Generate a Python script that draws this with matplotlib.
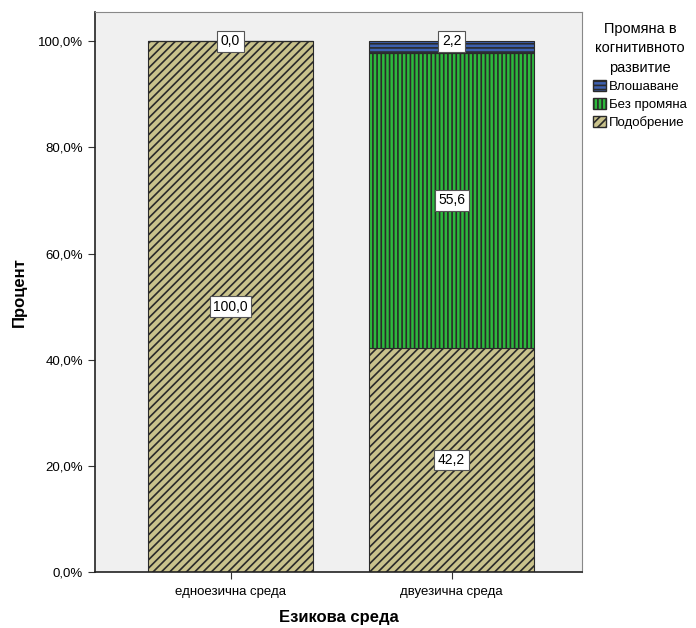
import matplotlib
matplotlib.use("Agg")
import matplotlib.pyplot as plt
from matplotlib.patches import Patch
from matplotlib.ticker import FuncFormatter

plt.rcParams['font.family'] = ['Liberation Sans', 'DejaVu Sans']
plt.rcParams['hatch.linewidth'] = 1.2

# данни
categories = ["едноезична среда", "двуезична среда"]
podobrenie = [100.0, 42.2]
bez_promyana = [0.0, 55.6]
vloshavane = [0.0, 2.2]

series_names = ["Влошаване", "Без промяна", "Подобрение"]
colors = {"Подобрение": "#c9c28c", "Без промяна": "#2db83d", "Влошаване": "#3d5fae"}
hatches = {"Подобрение": "////", "Без промяна": "||||", "Влошаване": "----"}
edge = "#2a2a2a"

fig = plt.figure(figsize=(6.96, 6.28), dpi=100)
ax = fig.add_axes([95 / 696, 56 / 628, 487 / 696, 560 / 628])
ax.set_facecolor("#f0f0f0")

x = list(range(len(categories)))
w = 0.747
bottoms = [0.0] * len(categories)
stack = [("Подобрение", podobrenie), ("Без промяна", bez_promyana), ("Влошаване", vloshavane)]
for name, vals in stack:
    ax.bar(x, vals, w, bottom=bottoms, color=colors[name], edgecolor=edge,
           hatch=hatches[name], linewidth=0.8, zorder=2)
    bottoms = [b + v for b, v in zip(bottoms, vals)]

box = dict(boxstyle="square,pad=0.25", fc="white", ec="#555555", lw=0.8)
# етикети на сегментите
for i in x:
    b = 0.0
    for name, vals in stack:
        v = vals[i]
        if v > 0:
            if v < 5:
                y = b + v
            else:
                y = b + v / 2
            ax.text(i, y, f"{v:.1f}".replace(".", ","), ha="center", va="center",
                    fontsize=10, bbox=box, zorder=4)
        b += v
# нулевият сегмент при едноезична среда
ax.text(0, podobrenie[0], f"{bez_promyana[0]:.1f}".replace(".", ","), ha="center",
        va="center", fontsize=10, bbox=box, zorder=4)

ax.set_xlim(-0.613, 1.59)
ax.set_ylim(0, 105.5)
ax.set_xticks(x)
ax.set_xticklabels(categories, fontsize=9.5)
ax.set_yticks([0, 20, 40, 60, 80, 100])
ax.yaxis.set_major_formatter(FuncFormatter(lambda v, p: f"{v:.1f}%".replace(".", ",")))
ax.tick_params(axis="y", labelsize=9.5, length=5, direction="out", color="#333333")
ax.tick_params(axis="x", length=5, direction="out", color="#333333", pad=5)

for s in ["top", "right"]:
    ax.spines[s].set_color("#888888")
for s in ["left", "bottom"]:
    ax.spines[s].set_color("#222222")
    ax.spines[s].set_linewidth(1.2)

ax.set_ylabel("Процент", fontsize=12, fontweight="bold", labelpad=8)
ax.set_xlabel("Езикова среда", fontsize=12, fontweight="bold", labelpad=9)

handles = [Patch(facecolor=colors[n], edgecolor=edge, hatch=hatches[n], label=n)
           for n in series_names]
leg = fig.legend(handles=handles, title="Промяна в\nкогнитивното\nразвитие",
                 loc="upper left", bbox_to_anchor=(589 / 696, 1 - 18 / 628),
                 frameon=False, fontsize=9.5, title_fontsize=10.5,
                 handlelength=1.0, handleheight=1.0, handletextpad=0.2,
                 labelspacing=0.35, borderaxespad=0, borderpad=0.3)
leg.get_title().set_multialignment("center")
leg.get_title().set_linespacing(1.5)

fig.savefig("out.png", dpi=100)
